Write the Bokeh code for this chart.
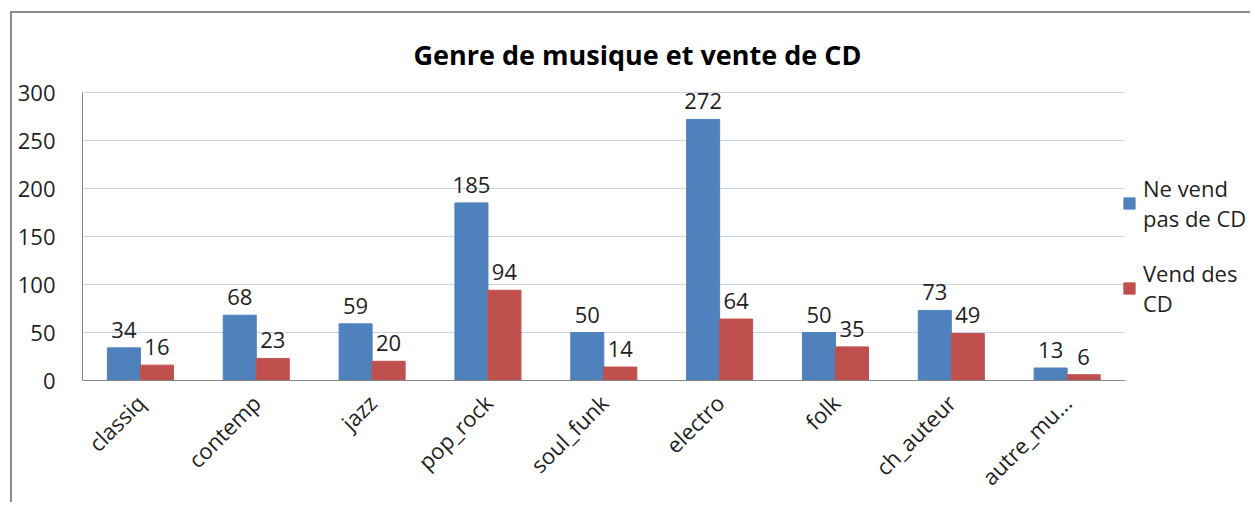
from bokeh.plotting import figure
from bokeh.models import ColumnDataSource, Range1d, FixedTicker, Legend, LegendItem
from bokeh.core.properties import value
from bokeh.embed import file_html
from bokeh.resources import INLINE

categories = ["classiq", "contemp", "jazz", "pop_rock", "soul_funk", "electro", "folk", "ch_auteur", "autre_mu..."]
ne_vend_pas = [34, 68, 59, 185, 50, 272, 50, 73, 13]
vend = [16, 23, 20, 94, 14, 64, 35, 49, 6]
series_names = ["Ne vend\npas de CD", "Vend des\nCD"]
y_ticks = [0, 50, 100, 150, 200, 250, 300]

BLUE = "#4f81bd"
RED = "#c0504d"
TXT = "#1f1f1f"
FONT = "Open Sans"

idx = list(range(len(categories)))
bw = 0.285
src = ColumnDataSource(dict(
    x=idx,
    xa=[i - bw / 2 for i in idx],
    xb=[i + bw / 2 for i in idx],
    a=ne_vend_pas,
    b=vend,
    a_lbl=[str(v) for v in ne_vend_pas],
    b_lbl=[str(v) for v in vend],
))

x_lo, x_hi = -0.5, len(categories) - 0.5

p = figure(
    x_range=Range1d(x_lo, 9.6),
    y_range=Range1d(0, 316.67),
    width=1240, height=491,
    output_backend="svg", toolbar_location=None,
    min_border_left=70, min_border_right=0, min_border_top=63, min_border_bottom=124,
)
p.styles = {"margin-left": "10px", "margin-top": "11px",
            "border-left": "2px solid #8c8c8c", "border-top": "2px solid #8c8c8c"}
p.outline_line_color = None
p.background_fill_color = "white"
p.border_fill_color = "white"

p.title.text = "Genre de musique et vente de CD"
p.title.align = "left"
p.title.offset = 331
p.title.text_font = FONT
p.title.text_font_size = "27px"
p.title.text_font_style = "bold"
p.title.text_color = "#000000"
p.title.standoff = 8

# horizontal gridlines limited to the category area
p.segment(x0=[x_lo] * len(y_ticks), x1=[x_hi] * len(y_ticks), y0=y_ticks, y1=y_ticks,
          line_color="#c6d5ea", line_width=1)

ra = p.vbar(x="xa", top="a", width=bw, source=src, fill_color=BLUE, line_color=BLUE)
rb = p.vbar(x="xb", top="b", width=bw, source=src, fill_color=RED, line_color=RED)

for xcol, col in (("xa", "a"), ("xb", "b")):
    p.text(x=xcol, y=col, text=col + "_lbl", source=src,
           text_align="center", text_baseline="alphabetic", y_offset=-18,
           text_font=value(FONT), text_font_size="22px", text_color=TXT)

# axes
p.yaxis.ticker = FixedTicker(ticks=y_ticks)
p.yaxis.bounds = (0, 300)
p.yaxis.axis_line_color = "#868686"
p.yaxis.major_tick_line_color = None
p.yaxis.minor_tick_line_color = None
p.yaxis.major_tick_out = 0
p.yaxis.major_label_standoff = 27
p.yaxis.major_label_text_font = FONT
p.yaxis.major_label_text_font_size = "22px"
p.yaxis.major_label_text_color = TXT

p.xaxis.ticker = FixedTicker(ticks=idx)
p.xaxis.major_label_overrides = {i: c for i, c in zip(idx, categories)}
p.xaxis.bounds = (x_lo, x_hi)
p.xaxis.axis_line_color = "#868686"
p.xaxis.major_tick_line_color = None
p.xaxis.minor_tick_line_color = None
p.xaxis.major_tick_out = 0
p.xaxis.major_label_orientation = 0.785398
p.xaxis.major_label_standoff = 18
p.xaxis.major_label_text_font = FONT
p.xaxis.major_label_text_font_size = "22px"
p.xaxis.major_label_text_color = TXT

p.xgrid.grid_line_color = None
p.ygrid.grid_line_color = None

legend = Legend(items=[LegendItem(label=series_names[0], renderers=[ra]),
                       LegendItem(label=series_names[1], renderers=[rb])],
                location=(1040, 62), orientation="vertical", margin=0, padding=0,
                label_text_font=FONT, label_text_font_size="22px", label_text_color=TXT,
                label_text_line_height=1.35,
                glyph_width=14, glyph_height=14, label_standoff=7, spacing=25,
                border_line_color=None, background_fill_alpha=0)
p.add_layout(legend, "center")

open("out.html", "w").write(file_html(p, INLINE))
